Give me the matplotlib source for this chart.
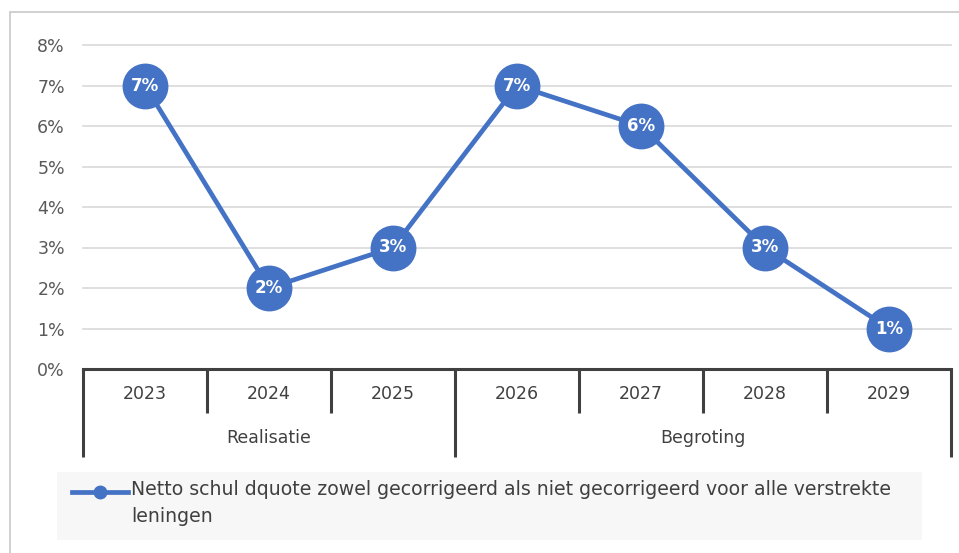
import matplotlib
matplotlib.use("Agg")
import matplotlib.pyplot as plt
from matplotlib.patches import Rectangle
from matplotlib.lines import Line2D

years = ["2023", "2024", "2025", "2026", "2027", "2028", "2029"]
groups = ["Realisatie", "Begroting"]
group_sizes = [3, 4]
values = [7, 2, 3, 7, 6, 3, 1]
yticks = [0, 1, 2, 3, 4, 5, 6, 7, 8]
series_label = "Netto schul dquote zowel gecorrigeerd als niet gecorrigeerd voor alle verstrekte\nleningen"

W, H = 959, 553
fig = plt.figure(figsize=(W / 100, H / 100), dpi=100)
plt.rcParams['font.family'] = ['DejaVu Sans']

# outer border
fig.patches.append(Rectangle((10 / W, -0.05), 1.2, (H - 12) / H + 0.05, transform=fig.transFigure,
                             fill=False, edgecolor="#c8c8c8", lw=1.2))

ax = fig.add_axes([83 / W, (H - 369) / H, (951 - 83) / W, 324 / H])
blue = "#4472C4"
x = list(range(len(years)))
ax.plot(x, values, color=blue, lw=3.4, marker="o", markersize=32, zorder=3, clip_on=False)
for xi, v in zip(x, values):
    ax.text(xi, v, f"{v}%", ha="center", va="center", color="white", fontsize=12,
            fontweight="bold", zorder=4)

ax.set_xlim(-0.5, len(years) - 0.5)
ax.set_ylim(0, 8)
ax.set_yticks(yticks)
ax.set_yticklabels([f"{t}%" for t in yticks], fontsize=12.5, color="#595959")
ax.tick_params(axis="y", length=0, pad=13)
ax.set_xticks([])
ax.grid(axis="y", color="#d9d9d9", lw=1.2)
for gl in ax.get_ygridlines():
    gl.set_clip_on(False)
ax.set_axisbelow(True)
for s in ["top", "right", "left", "bottom"]:
    ax.spines[s].set_visible(False)

# multi-level category axis
ph = 324.0
axc = "#404040"
tr = ax.get_xaxis_transform()
ax.plot([-0.5, len(years) - 0.5], [0, 0], color=axc, lw=2.2, transform=tr, clip_on=False, zorder=2)
boundaries = [-0.5]
acc = 0
for g in group_sizes:
    acc += g
    boundaries.append(acc - 0.5)
for i in range(len(years) + 1):
    b = i - 0.5
    if b in boundaries:
        y1 = -88 / ph
    else:
        y1 = -44 / ph
    ax.plot([b, b], [0, y1], color=axc, lw=2.2, transform=tr, clip_on=False, solid_capstyle="butt")
for xi, yr in zip(x, years):
    ax.text(xi, -25 / ph, yr, transform=tr, ha="center", va="center", fontsize=12.5, color="#404040")
start = 0
for g, n in zip(groups, group_sizes):
    c = start + (n - 1) / 2
    ax.text(c, -69 / ph, g, transform=tr, ha="center", va="center", fontsize=12.5, color="#404040")
    start += n

# legend
fig.patches.append(Rectangle((57 / W, (H - 540) / H), (922 - 57) / W, 68 / H, transform=fig.transFigure,
                             facecolor="#f7f7f7", edgecolor="none"))
fig.lines.append(Line2D([72 / W, 128 / W], [(H - 492) / H] * 2, transform=fig.transFigure,
                        color=blue, lw=3.4))
fig.lines.append(Line2D([100 / W], [(H - 492) / H], transform=fig.transFigure,
                        color=blue, marker="o", markersize=9))
fig.text(131 / W, (H - 480) / H, series_label, ha="left", va="top", fontsize=13.6, color="#404040",
         linespacing=1.5)

fig.savefig("out.png", dpi=100)
